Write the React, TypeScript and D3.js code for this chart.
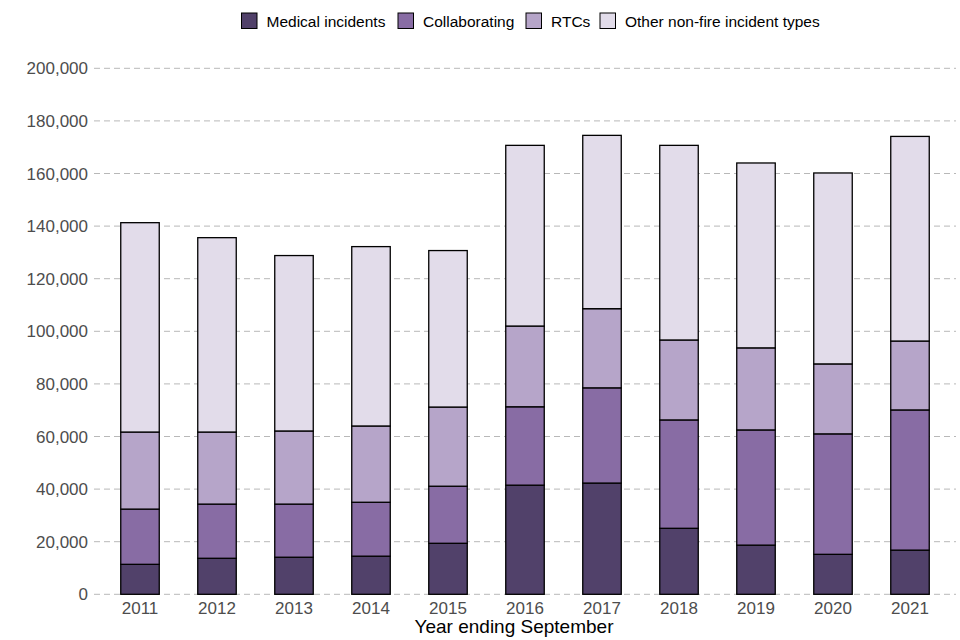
import React, { useEffect, useRef } from "react";
import * as d3 from "d3";

const years = ["2011", "2012", "2013", "2014", "2015", "2016", "2017", "2018", "2019", "2020", "2021"];
const seriesNames = ["Medical incidents", "Collaborating", "RTCs", "Other non-fire incident types"];
const medical = [11400, 13700, 14100, 14500, 19400, 41500, 42300, 25100, 18700, 15200, 16800];
const collaborating = [21000, 20600, 20200, 20500, 21700, 29800, 36200, 41200, 43800, 45800, 53300];
const rtcs = [29300, 27400, 27800, 29000, 30100, 30700, 30100, 30400, 31200, 26600, 26200];
const other = [79600, 73900, 66700, 68200, 59500, 68700, 65900, 74000, 70300, 72600, 77800];
const yTicks = [0, 20000, 40000, 60000, 80000, 100000, 120000, 140000, 160000, 180000, 200000];
const colors = ["#51416a", "#886ca4", "#b6a5c9", "#e2dcea"];

type Row = { year: string; [key: string]: number | string };

const App = () => {
  const svgRef = useRef<SVGSVGElement | null>(null);

  useEffect(() => {
    if (!svgRef.current) return;
    const svg = d3.select(svgRef.current);
    svg.selectAll("*").remove();

    const font = "'Liberation Sans', Arial, sans-serif";

    const rows: Row[] = years.map((year, i) => ({
      year,
      [seriesNames[0]]: medical[i],
      [seriesNames[1]]: collaborating[i],
      [seriesNames[2]]: rtcs[i],
      [seriesNames[3]]: other[i],
    }));

    const x = d3
      .scaleBand<string>()
      .domain(years)
      .range([101.5, 948.5])
      .paddingInner(0.5)
      .paddingOuter(0.25);

    const y = d3.scaleLinear().domain([0, 200000]).range([594.3, 68.3]);

    const color = d3.scaleOrdinal<string>().domain(seriesNames).range(colors);

    // gridlines
    svg
      .append("g")
      .selectAll("line")
      .data(yTicks)
      .enter()
      .append("line")
      .attr("x1", 94)
      .attr("x2", 956)
      .attr("y1", (d) => y(d))
      .attr("y2", (d) => y(d))
      .attr("stroke", "#b8b8b8")
      .attr("stroke-width", 1)
      .attr("stroke-dasharray", "6,4");

    // y tick labels
    svg
      .append("g")
      .selectAll("text")
      .data(yTicks)
      .enter()
      .append("text")
      .attr("x", 88)
      .attr("y", (d) => y(d))
      .attr("dy", "0.36em")
      .attr("text-anchor", "end")
      .style("font-family", font)
      .style("font-size", "17px")
      .style("fill", "#4d4d4d")
      .text((d) => d3.format(",")(d));

    const stack = d3.stack<Row>().keys(seriesNames);
    const layers = stack(rows);

    svg
      .append("g")
      .selectAll("g")
      .data(layers)
      .enter()
      .append("g")
      .attr("fill", (d) => color(d.key))
      .selectAll("rect")
      .data((d) => d)
      .enter()
      .append("rect")
      .attr("x", (d) => x(d.data.year as string) ?? 0)
      .attr("width", x.bandwidth())
      .attr("y", (d) => y(d[1]))
      .attr("height", (d) => y(d[0]) - y(d[1]))
      .attr("stroke", "#000")
      .attr("stroke-width", 1.3);

    // x tick labels
    svg
      .append("g")
      .selectAll("text")
      .data(years)
      .enter()
      .append("text")
      .attr("x", (d) => (x(d) ?? 0) + x.bandwidth() / 2)
      .attr("y", 613.5)
      .attr("text-anchor", "middle")
      .style("font-family", font)
      .style("font-size", "17px")
      .style("fill", "#4d4d4d")
      .text((d) => d);

    svg
      .append("text")
      .attr("x", 514)
      .attr("y", 633)
      .attr("text-anchor", "middle")
      .style("font-family", font)
      .style("font-size", "19px")
      .style("fill", "#000")
      .text("Year ending September");

    // legend
    const legendX = [241.5, 398, 526, 600];
    const legend = svg
      .append("g")
      .selectAll("g")
      .data(seriesNames)
      .enter()
      .append("g")
      .attr("transform", (d, i) => `translate(${legendX[i]}, 13)`);

    legend
      .append("rect")
      .attr("width", 15.5)
      .attr("height", 15.5)
      .attr("fill", (d) => color(d))
      .attr("stroke", "#000")
      .attr("stroke-width", 1);

    legend
      .append("text")
      .attr("x", 25)
      .attr("y", 8)
      .attr("dy", "0.36em")
      .style("font-family", font)
      .style("font-size", "15.5px")
      .style("fill", "#000")
      .text((d) => d);
  }, []);

  return (
    <svg
      ref={svgRef}
      width={960}
      height={640}
      style={{ position: "absolute", left: 0, top: 0, background: "#fff" }}
    />
  );
};

export default App;
